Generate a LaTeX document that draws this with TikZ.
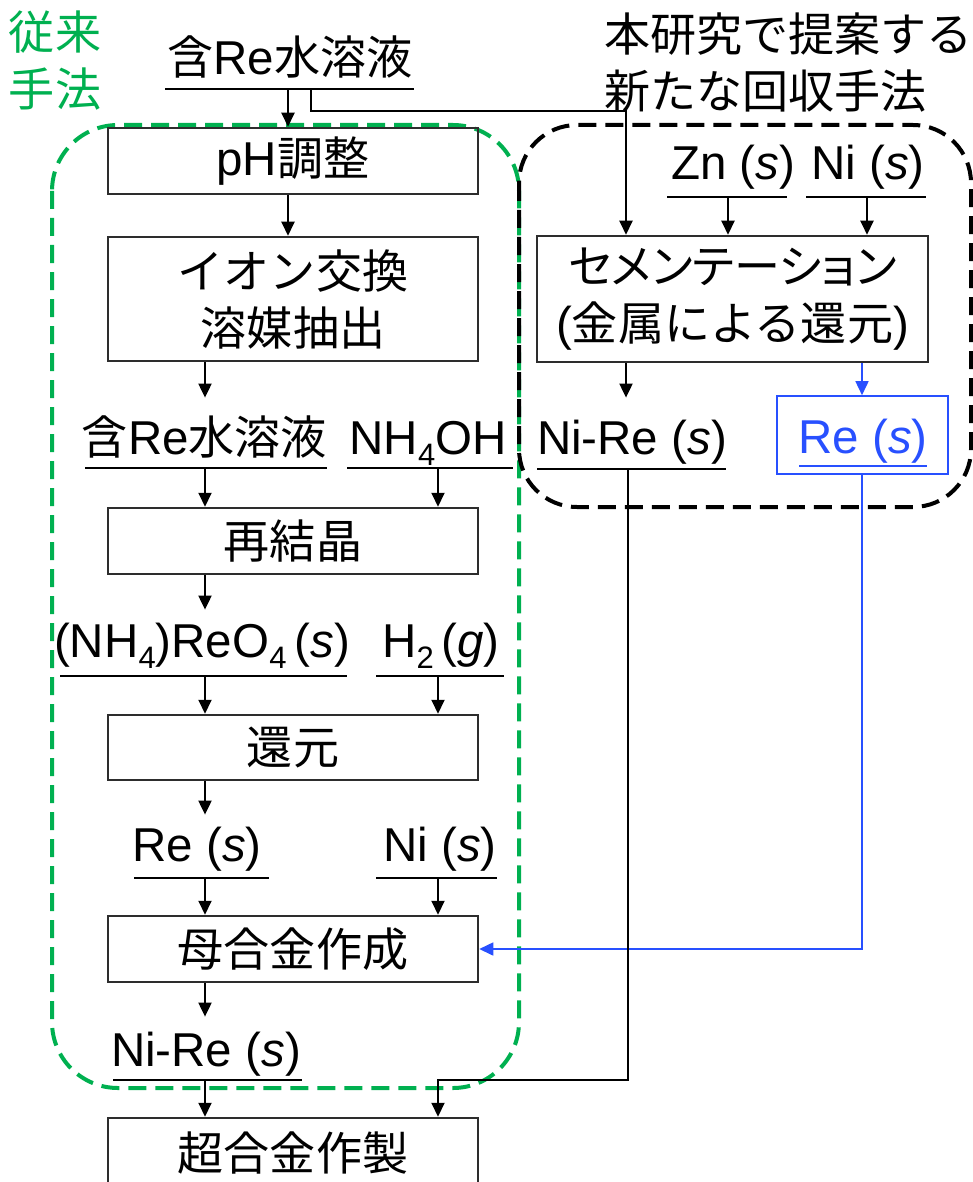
\documentclass[tikz,border=0pt]{standalone}
\usepackage{fontspec}
\setmainfont{Liberation Sans}
\newfontfamily\jp[Scale=0.97]{Noto Sans CJK JP}
\newfontfamily\jpp[Scale=0.97,RawFeature=+palt]{Noto Sans CJK JP}
\usetikzlibrary{arrows.meta}
\newcommand{\J}[1]{{\jp #1}}
\newcommand{\lsub}[1]{\raisebox{-0.22em}{\fontsize{31}{31}\selectfont #1}}
\definecolor{pgreen}{RGB}{0,176,80}
\definecolor{pblue}{RGB}{40,80,255}
\definecolor{boxline}{RGB}{45,45,45}
\begin{document}
\begin{tikzpicture}[x=1pt,y=-1pt,
  font=\fontsize{47.5}{57}\selectfont,
  box/.style={draw=boxline, line width=2.5pt, minimum width=370pt, inner sep=0pt, align=center},
  lab/.style={inner sep=0pt, anchor=south},
  ul/.style={line width=2.5pt},
  arr/.style={line width=2pt, -{Triangle[width=13pt,length=14pt]}},
  barr/.style={line width=1.6pt, draw=pblue, -{Triangle[width=13pt,length=14pt]}},
  grp/.style={line width=4pt, dash pattern=on 18pt off 9pt}]
\useasboundingbox (0,0) rectangle (973,1182);
\clip (0,0) rectangle (973,1182);

% column coordinates
\coordinate (cA) at (205,0);
\coordinate (cB) at (438,0);
\coordinate (cC) at (626,0);
\coordinate (cD) at (862,0);
\coordinate (cE) at (288,0);
\coordinate (cF) at (311,0);
\coordinate (cG) at (628,0);
\coordinate (cZ) at (728,0);
\coordinate (cN) at (867,0);
\coordinate (k1) at (626,111);
\coordinate (k2) at (438,1080);

% group frames
\draw[grp, pgreen, rounded corners=66pt] (52,125) rectangle (519,1088);
\draw[grp, black, rounded corners=58pt] (519,125) rectangle (971,507);

% titles
\node[pgreen, align=center, inner sep=0pt] (tOld) at (55,61) {\J{従来}\\\J{手法}};
\node[align=left, inner sep=0pt, anchor=west] (tNew) at (604,63) {\J{本研究で提案する}\\\J{新たな回収手法}};

% boxes left
\node[box, minimum height=66pt] (ph) at (293,161) {pH\J{調整}};
\node[box, minimum height=124pt] (ion) at (293,299) {\J{イオン交換}\\\J{溶媒抽出}};
\node[box, minimum height=66pt] (rec) at (293,541) {\J{再結晶}};
\node[box, minimum height=65pt] (red) at (293,747.5) {\J{還元}};
\node[box, minimum height=66pt] (mot) at (293,949) {\J{母合金作成}};
\node[box, minimum height=70pt] (sup) at (293,1153) {\J{超合金作製}};

% right boxes
\node[box, minimum width=391pt, minimum height=126pt] (cem) at (732.5,299) {{\jpp セメンテーション}\\(\J{金属による還元})};
\node[draw=pblue, line width=1.6pt, minimum width=171pt, minimum height=78pt, inner sep=0pt] (reS) at (862.5,435) {};
\node[pblue, inner sep=0pt, anchor=base] (reT) at (863,453) {Re (\textit{s})};
\draw[ul, pblue] (799,466) -- (927,466);

% labels
\node[lab, text height=40pt, text depth=14pt] (lTop) at (290,89) {\J{含}Re\J{水溶液}};
\draw[ul] (165,89) -- (414,89);
\node[lab, text height=40pt, text depth=17pt] (lZn) at (733,197) {Zn (\textit{s})};
\draw[ul] (667,197) -- (787,197);
\node[lab, text height=40pt, text depth=17pt] (lNi1) at (868,197) {Ni (\textit{s})};
\draw[ul] (806,197) -- (926,197);
\node[lab, text height=57pt, text depth=14pt] (lNiReR) at (632,469) {Ni-Re (\textit{s})};
\draw[ul] (537,469) -- (726,469);
\node[lab, text height=57pt, text depth=13pt] (lMid) at (204.5,468) {\J{含}Re\J{水溶液}};
\draw[ul] (85,468) -- (327,468);
\node[lab, text height=57pt, text depth=13pt] (lNH) at (428,468) {NH\lsub{4}OH};
\draw[ul] (347,468) -- (513,468);
\node[lab, text height=48pt, text depth=18pt] (lAmm) at (202,676) {(NH\lsub{4})ReO\lsub{4}\,(\textit{s})};
\draw[ul] (60,676) -- (347,676);
\node[lab, text height=48pt, text depth=18pt] (lH2) at (441,676) {H\lsub{2}\,(\textit{g})};
\draw[ul] (376,676) -- (504,676);
\node[lab, text height=47pt, text depth=16pt] (lRe) at (197,878) {Re (\textit{s})};
\draw[ul] (134,878) -- (269,878);
\node[lab, text height=47pt, text depth=16pt] (lNi2) at (440,878) {Ni (\textit{s})};
\draw[ul] (376,878) -- (497,878);
\node[lab, text height=50pt, text depth=13pt] (lNiReB) at (206,1080) {Ni-Re (\textit{s})};
\draw[ul] (113,1080) -- (302,1080);

% connectors
\draw[arr] (lTop.south -| cE) -- (ph.north -| cE);
\draw[arr] (lTop.south -| cF) |- (k1) -- (cem.north -| cC);
\draw[arr] (ph.south -| cE) -- (ion.north -| cE);
\draw[arr] (ion.south -| cA) -- (lMid.north -| cA);
\draw[arr] (lMid.south -| cA) -- (rec.north -| cA);
\draw[arr] (lNH.south -| cB) -- (rec.north -| cB);
\draw[arr] (rec.south -| cA) -- (lAmm.north -| cA);
\draw[arr] (lAmm.south -| cA) -- (red.north -| cA);
\draw[arr] (lH2.south -| cB) -- (red.north -| cB);
\draw[arr] (red.south -| cA) -- (lRe.north -| cA);
\draw[arr] (lRe.south -| cA) -- (mot.north -| cA);
\draw[arr] (lNi2.south -| cB) -- (mot.north -| cB);
\draw[arr] (mot.south -| cA) -- (lNiReB.north -| cA);
\draw[arr] (lNiReB.south -| cA) -- (sup.north -| cA);
\draw[arr] (lZn.south -| cZ) -- (cem.north -| cZ);
\draw[arr] (lNi1.south -| cN) -- (cem.north -| cN);
\draw[arr] (cem.south -| cC) -- (lNiReR.north -| cC);
\draw[barr] (cem.south -| cD) -- (reS.north -| cD);
\draw[barr] (reS.south -| cD) |- (mot.east);
\draw[arr] (lNiReR.south -| cG) |- (k2) -- (sup.north -| cB);
\end{tikzpicture}
\end{document}
